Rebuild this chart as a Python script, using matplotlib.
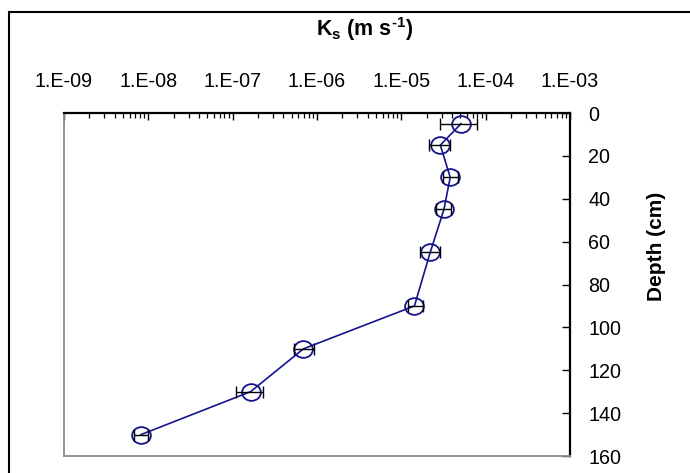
import numpy as np
import matplotlib
matplotlib.use("Agg")
import matplotlib.pyplot as plt
from matplotlib.path import Path
from matplotlib.patches import Rectangle
from matplotlib.ticker import FixedLocator, LogLocator, NullFormatter, NullLocator

# ---- data ----
depth = [5, 15, 30, 45, 65, 90, 110, 130, 150]
ks = [5.1e-5, 2.9e-5, 3.8e-5, 3.2e-5, 2.2e-5, 1.43e-5, 6.9e-7, 1.63e-7, 8.2e-9]
ks_lo = [2.9e-5, 2.1e-5, 3.1e-5, 2.6e-5, 1.66e-5, 1.19e-5, 5.3e-7, 1.11e-7, 6.7e-9]
ks_hi = [8.0e-5, 3.8e-5, 4.7e-5, 3.9e-5, 2.9e-5, 1.79e-5, 9.1e-7, 2.28e-7, 1.0e-8]
xtick_vals = [1e-9, 1e-8, 1e-7, 1e-6, 1e-5, 1e-4, 1e-3]
xtick_labels = ['1.E-09', '1.E-08', '1.E-07', '1.E-06', '1.E-05', '1.E-04', '1.E-03']
ytick_vals = [0, 20, 40, 60, 80, 100, 120, 140, 160]

plt.rcParams['font.family'] = ['Liberation Sans', 'DejaVu Sans']
plt.rcParams['mathtext.fontset'] = 'custom'
plt.rcParams['mathtext.rm'] = 'Liberation Sans:bold'
plt.rcParams['mathtext.it'] = 'Liberation Sans:bold'
plt.rcParams['mathtext.bf'] = 'Liberation Sans:bold'

W, H = 690, 473
fig = plt.figure(figsize=(W / 100, H / 100), dpi=100)
L, R, T, B = 64, 570, 113, 456
ax = fig.add_axes([L / W, 1 - B / H, (R - L) / W, (B - T) / H])

ks_a = np.array(ks)
xerr = [ks_a - np.array(ks_lo), np.array(ks_hi) - ks_a]

# ellipse marker (slightly wider than tall)
circ = Path.unit_circle()
ell = Path(circ.vertices * np.array([1.12, 1.0]), circ.codes)

navy = '#14148c'
ax.plot(ks, depth, color=navy, lw=1.2, marker=ell, markersize=13.5,
        markerfacecolor='none', markeredgecolor=navy, markeredgewidth=1.3, zorder=2)
ax.errorbar(ks, depth, xerr=xerr, fmt='none', ecolor='black', elinewidth=1.0,
            capsize=4, capthick=1.0, zorder=3)

ax.set_xscale('log')
ax.set_xlim(1e-9, 1e-3)
ax.set_ylim(160, 0)

ax.xaxis.set_major_locator(FixedLocator(xtick_vals))
ax.set_xticklabels(xtick_labels)
ax.xaxis.set_minor_locator(LogLocator(base=10, subs=np.arange(2, 10), numticks=20))
ax.xaxis.set_minor_formatter(NullFormatter())
ax.xaxis.tick_top()
ax.tick_params(axis='x', which='major', direction='in', length=5, width=1,
               labelsize=14.2, pad=16, top=True, bottom=False)
ax.tick_params(axis='x', which='minor', direction='in', length=3.5, width=0.9,
               top=True, bottom=False)

ax.set_yticks(ytick_vals)
ax.yaxis.set_minor_locator(NullLocator())
ax.yaxis.tick_right()
ax.tick_params(axis='y', which='major', direction='in', length=6, width=1,
               labelsize=14.2, pad=13, right=True, left=False)
for lbl in ax.get_yticklabels():
    lbl.set_horizontalalignment('left')

for s in ['top', 'right']:
    ax.spines[s].set_color('black')
    ax.spines[s].set_linewidth(1.6)
for s in ['left', 'bottom']:
    ax.spines[s].set_color('#8c8c8c')
    ax.spines[s].set_linewidth(1.3)

fig.text(365 / W, 1 - 29 / H, r'$\mathrm{K_s}$ (m s$^{\text{-}1}$)',
         ha='center', va='center', fontsize=15.5, fontweight='bold')
fig.text(657 / W, 1 - 246 / H, 'Depth (cm)', rotation=90, ha='center', va='center',
         fontsize=15, fontweight='bold')

# outer border (only left and top visible)
fig.patches.append(Rectangle((9 / W, -0.1), 1.2, 1 - 12 / H + 0.1, transform=fig.transFigure,
                             fill=False, edgecolor='black', linewidth=1.5, clip_on=False))

fig.savefig('out.png', dpi=100)
